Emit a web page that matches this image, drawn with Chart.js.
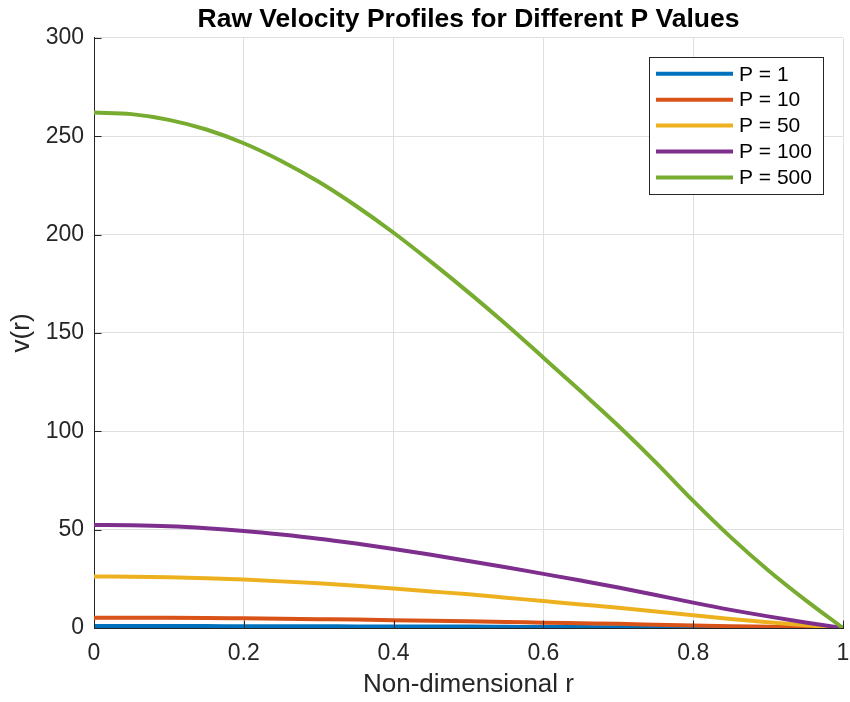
<!DOCTYPE html>
<html>
<head>
<meta charset="utf-8">
<script src="https://cdn.jsdelivr.net/npm/chart.js@4.4.1/dist/chart.umd.min.js"></script>
<style>
    html, body { margin: 0; padding: 0; background: #fff; }
    #wrap { width: 850px; height: 702px; }
</style>
</head>
<body>
<div id="wrap"><canvas id="perfilChart"></canvas></div>
<script>
// Radio adimensional
const radios = [0, 0.05, 0.1, 0.15, 0.2, 0.25, 0.3, 0.35, 0.4, 0.45, 0.5,
    0.55, 0.6, 0.65, 0.7, 0.75, 0.8, 0.85, 0.9, 0.95, 1];

// Perfiles de velocidad para cada valor de P
const velP1 = [1.0, 1.0, 1.0, 1.0, 0.9, 0.9, 0.9, 0.8, 0.8, 0.7, 0.7,
    0.6, 0.5, 0.5, 0.4, 0.3, 0.2, 0.2, 0.1, 0.05, 0];
const velP10 = [5.2, 5.2, 5.2, 5.1, 4.9, 4.7, 4.5, 4.3, 4.0, 3.7, 3.4,
    3.1, 2.7, 2.4, 2.1, 1.7, 1.3, 0.9, 0.6, 0.3, 0];
const velP50 = [26.2, 26.1, 25.8, 25.3, 24.6, 23.7, 22.7, 21.5, 20.1, 18.6, 17.1,
    15.4, 13.7, 12.0, 10.3, 8.4, 6.5, 4.6, 2.9, 1.4, 0];
const velP100 = [52.4, 52.2, 51.7, 50.7, 49.3, 47.5, 45.4, 42.9, 40.2, 37.2, 34.1,
    30.9, 27.5, 24.1, 20.6, 16.8, 12.9, 9.2, 5.9, 2.8, 0];
const velP500 = [262, 261.2, 258.3, 253.4, 246.4, 237.4, 226.8, 214.5, 200.9, 186.1, 170.6,
    154.4, 137.4, 120.3, 102.8, 84.2, 64.6, 46.2, 29.4, 14.2, 0];

const etiquetas = ['P = 1', 'P = 10', 'P = 50', 'P = 100', 'P = 500'];
const series = [velP1, velP10, velP50, velP100, velP500];
const colores = ['#0072BD', '#D95319', '#EDB120', '#7E2F8E', '#77AC30'];

const colorEjes = '#262626';
const colorGrid = '#dfdfdf';
const fuente = "'Liberation Sans', Arial, sans-serif";

// Marcas de los ejes hacia adentro (estilo MATLAB)
const marcasInternas = {
    id: 'marcasInternas',
    afterDatasetsDraw(chart) {
        const { ctx, chartArea, scales } = chart;
        const largo = 7.5;
        ctx.save();
        ctx.strokeStyle = colorEjes;
        ctx.lineWidth = 1;
        ctx.beginPath();
        scales.x.ticks.forEach(t => {
            const px = Math.round(scales.x.getPixelForValue(t.value)) + 0.5;
            ctx.moveTo(px, chartArea.bottom);
            ctx.lineTo(px, chartArea.bottom - largo);
        });
        scales.y.ticks.forEach(t => {
            const py = Math.round(scales.y.getPixelForValue(t.value)) + 0.5;
            ctx.moveTo(chartArea.left, py);
            ctx.lineTo(chartArea.left + largo, py);
        });
        ctx.stroke();
        ctx.restore();
    }
};

// Leyenda en la esquina superior derecha del área de la gráfica
const leyendaInterna = {
    id: 'leyendaInterna',
    afterDraw(chart) {
        const { ctx, chartArea } = chart;
        const ancho = 174, alto = 137;
        const x0 = chartArea.right - 20 - ancho;
        const y0 = chartArea.top + 19;
        const paso = 25.9;
        ctx.save();
        ctx.fillStyle = '#fff';
        ctx.fillRect(x0, y0, ancho, alto);
        ctx.strokeStyle = colorEjes;
        ctx.lineWidth = 1;
        ctx.strokeRect(Math.round(x0) + 0.5, Math.round(y0) + 0.5, ancho, alto);
        ctx.font = '21px ' + fuente;
        ctx.textBaseline = 'middle';
        ctx.textAlign = 'left';
        chart.data.datasets.forEach((ds, i) => {
            const y = y0 + 17 + i * paso;
            ctx.strokeStyle = ds.borderColor;
            ctx.lineWidth = 4;
            ctx.beginPath();
            ctx.moveTo(x0 + 7, y);
            ctx.lineTo(x0 + 84, y);
            ctx.stroke();
            ctx.fillStyle = '#000';
            ctx.fillText(ds.label, x0 + 90, y + 1);
        });
        ctx.restore();
    }
};

const datasets = series.map((valores, i) => ({
    label: etiquetas[i],
    data: valores.map((v, j) => ({ x: radios[j], y: v })),
    borderColor: colores[i],
    backgroundColor: colores[i],
    borderWidth: 4,
    pointRadius: 0,
    cubicInterpolationMode: 'monotone',
    fill: false,
    order: series.length - 1 - i
}));

new Chart(document.getElementById('perfilChart'), {
    type: 'line',
    data: { datasets: datasets },
    options: {
        responsive: true,
        maintainAspectRatio: false,
        animation: false,
        layout: { padding: { left: 0, right: 7, top: 0, bottom: 0 } },
        plugins: {
            legend: { display: false },
            tooltip: { enabled: false },
            title: {
                display: true,
                fullSize: false,
                text: 'Raw Velocity Profiles for Different P Values',
                color: '#000',
                font: { family: fuente, size: 26.5, weight: 'bold' },
                padding: { top: 4, bottom: 2 }
            }
        },
        scales: {
            x: {
                type: 'linear',
                min: 0,
                max: 1,
                ticks: {
                    stepSize: 0.2,
                    color: colorEjes,
                    padding: 12,
                    font: { family: fuente, size: 23 },
                    callback: v => Number(v.toFixed(2)).toString()
                },
                grid: { color: colorGrid, drawTicks: false },
                border: { color: colorEjes, width: 1 },
                title: {
                    display: true,
                    text: 'Non-dimensional r',
                    color: colorEjes,
                    font: { family: fuente, size: 26 },
                    padding: { top: 0, bottom: 2 }
                },
                afterFit: s => {
                    s.height = 74;
                    s.paddingLeft = 0;
                    s.paddingRight = 0;
                }
            },
            y: {
                min: 0,
                max: 300,
                ticks: {
                    stepSize: 50,
                    color: colorEjes,
                    padding: 10,
                    font: { family: fuente, size: 23 }
                },
                grid: { color: colorGrid, drawTicks: false },
                border: { color: colorEjes, width: 1 },
                title: {
                    display: true,
                    text: 'v(r)',
                    color: colorEjes,
                    font: { family: fuente, size: 26 },
                    padding: { top: 6, bottom: 0 }
                },
                afterFit: s => {
                    s.width = 94;
                    s.paddingTop = 0;
                    s.paddingBottom = 0;
                }
            }
        }
    },
    plugins: [marcasInternas, leyendaInterna]
});
</script>
</body>
</html>
